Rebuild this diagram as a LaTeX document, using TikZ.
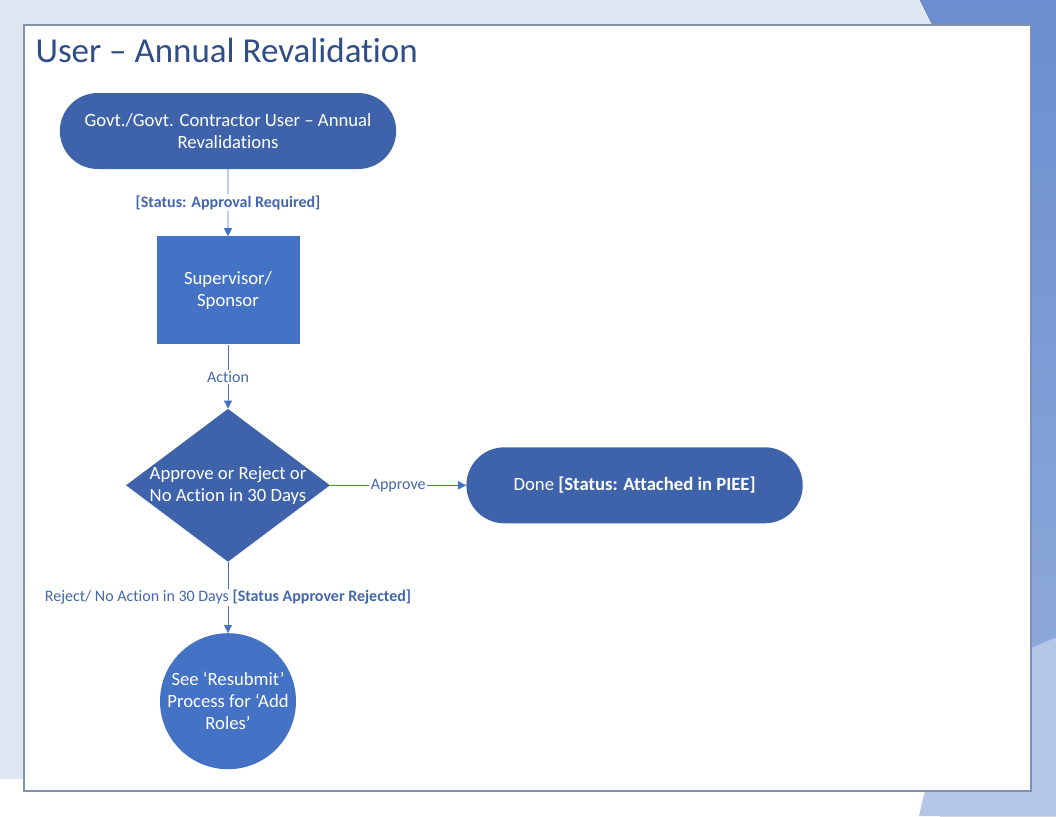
\documentclass[tikz,border=0pt]{standalone}
\usepackage{fontspec}
\setmainfont{Carlito}[Ligatures={NoCommon,NoDiscretionary}]
\usepackage{xcolor}
\usetikzlibrary{shapes.geometric, shapes.misc, arrows.meta, positioning}

\definecolor{bgpale}{HTML}{DEE6F2}
\definecolor{bgblue}{HTML}{6A8ECF}
\definecolor{bgmid}{HTML}{95AEDD}
\definecolor{bglight}{HTML}{B4C7E7}
\definecolor{darkfill}{HTML}{3F63AA}
\definecolor{midfill}{HTML}{4472C4}
\definecolor{linecol}{HTML}{4472C4}
\definecolor{lblcol}{HTML}{4467AC}
\definecolor{titlecol}{HTML}{2F4D87}
\definecolor{framecol}{HTML}{7F91B0}

\begin{document}
\begin{tikzpicture}[
  x=1pt, y=-1pt,
  term/.style={rounded rectangle, fill=darkfill, minimum width=343pt,
               minimum height=76pt, text=white, align=center,
               font=\fontsize{18.7}{22}\selectfont},
  procbox/.style={rectangle, fill=midfill, minimum width=143pt,
                  minimum height=108pt, text=white, align=center,
                  font=\fontsize{18.7}{22}\selectfont},
  decision/.style={diamond, fill=darkfill, minimum width=204pt,
                   minimum height=153pt, inner sep=0pt},
  dtext/.style={text=white, align=center, font=\fontsize{18.7}{22}\selectfont},
  endcirc/.style={circle, fill=midfill, minimum size=136pt, inner sep=-9pt,
                  text=white, align=center, font=\fontsize{18.7}{22}\selectfont},
  arr/.style={-{Triangle[length=8pt, width=8pt]}, line width=0.9pt, linecol},
  lbl/.style={fill=white, inner sep=1.5pt, text=lblcol,
              font=\fontsize{16}{18}\selectfont}
]
\useasboundingbox (0,0) rectangle (1056,816);

% Background and frame
\fill[bgpale] (0,0) rectangle (935,25);
\fill[bgpale] (0,0) rectangle (24,779);
\fill[top color=bgblue, bottom color=bgmid]
  (920,0) -- (1056,0) -- (1056,816) -- (940,816) -- (940,40) -- cycle;
\fill[bglight] (919,816) .. controls (932,755) and (960,670) .. (1056,638)
  -- (1056,816) -- cycle;
\draw[framecol, line width=1.3pt, fill=white] (24,25) rectangle (1031,791);
\node[anchor=west, text=titlecol, font=\fontsize{35}{40}\selectfont]
  (title) at (32,50) {User – Annual Revalidation};

% Nodes (top to bottom)
\node[term] (start) at (228,131) {Govt./Govt. Contractor User – Annual\\Revalidations};
\node[procbox, below=67pt of start] (sup) {Supervisor/\\Sponsor};
\node[decision, below=64pt of sup,
      label={[dtext]center:Approve or Reject or\\No Action in 30 Days}] (dec) {};
\node[term, right=136pt of dec] (done) {Done \textbf{[Status: Attached in PIEE]}};
\node[endcirc, below=71pt of dec] (resub) {See ‘Resubmit’\\Process for ‘Add\\Roles’};

% Arrows
\draw[arr] (start) -- node[lbl, font=\fontsize{16}{18}\selectfont\bfseries] (l1)
  {[Status: Approval Required]} (sup);
\draw[arr] (sup) -- node[lbl] (l2) {Action} (dec);
\draw[arr] (dec) -- node[lbl] (l3) {Approve} (done);
\draw[arr] (dec) -- node[lbl] (l4)
  {Reject/ No Action in 30 Days \textbf{[Status Approver Rejected]}} (resub);

\end{tikzpicture}
\end{document}
